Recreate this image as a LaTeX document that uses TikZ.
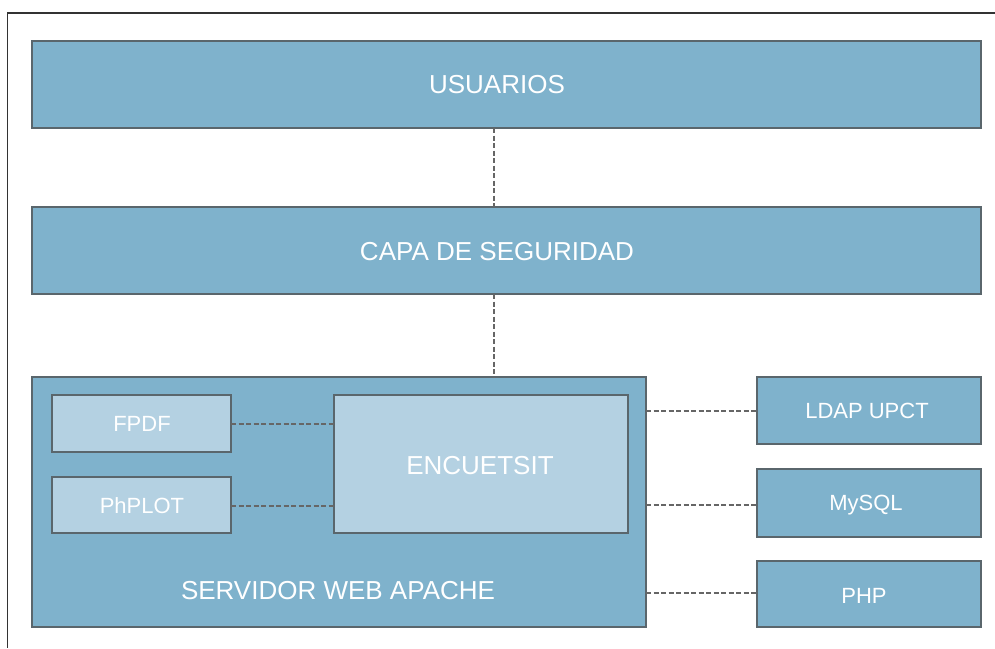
\documentclass[tikz,border=0pt]{standalone}
\usepackage{fontspec}
\setmainfont{Liberation Sans}
\definecolor{boxblue}{HTML}{7FB2CC}
\definecolor{innerblue}{HTML}{B4D1E2}
\definecolor{edgegray}{HTML}{5A666C}
\definecolor{dashgray}{HTML}{666666}
\begin{document}
\begin{tikzpicture}[x=1pt,y=-1pt,
  bigbox/.style={draw=edgegray,line width=1.8pt,fill=boxblue,text=white},
  innerbox/.style={draw=edgegray,line width=1.8pt,fill=innerblue,text=white},
  conn/.style={draw=dashgray,line width=1.3pt,dash pattern=on 5pt off 2.5pt},
  lbl/.style={text=white,font=\fontsize{26}{30}\selectfont},
  slbl/.style={text=white,font=\fontsize{22}{26}\selectfont}]
\useasboundingbox (0,0) rectangle (995,648);
% frame
\draw[line width=1.3pt,color=black!80] (995,13) -- (7.5,13) -- (7.5,648);
% boxes
\path[bigbox] (32,41) rectangle (981,128);
\node[lbl] (usu) at (497,85) {USUARIOS};
\coordinate (usuB) at (494,128);
\path[bigbox] (32,207) rectangle (981,294);
\node[lbl] (capa) at (497,252) {CAPA DE SEGURIDAD};
\coordinate (capaT) at (494,207);
\coordinate (capaB) at (494,294);
\path[bigbox] (32,377) rectangle (646,627);
\node[lbl] (serv) at (338,591) {SERVIDOR WEB APACHE};
\coordinate (servT) at (494,377);
\coordinate (servR1) at (646,411);
\coordinate (servR2) at (646,505);
\coordinate (servR3) at (646,593);
\path[innerbox] (52,395) rectangle (231,452);
\node[slbl] (fpdf) at (142,424) {FPDF};
\coordinate (fpdfR) at (231,424);
\path[innerbox] (52,477) rectangle (231,533);
\node[slbl] (phplot) at (142,506) {PhPLOT};
\coordinate (phplotR) at (231,506);
\path[innerbox] (334,395) rectangle (628,533);
\node[lbl] (enc) at (480,466) {ENCUETSIT};
\coordinate (encL1) at (334,424);
\coordinate (encL2) at (334,506);
\path[bigbox] (757,377) rectangle (981,444);
\node[slbl] (ldap) at (867,411) {LDAP UPCT};
\coordinate (ldapL) at (757,411);
\path[bigbox] (757,469) rectangle (981,537);
\node[slbl] (mysql) at (866,505) {MySQL};
\coordinate (mysqlL) at (757,505);
\path[bigbox] (757,561) rectangle (981,627);
\node[slbl] (php) at (864,596) {PHP};
\coordinate (phpL) at (757,593);
% connectors
\draw[conn] (usuB) -- (capaT);
\draw[conn] (capaB) -- (servT);
\draw[conn] (fpdfR) -- (encL1);
\draw[conn] (phplotR) -- (encL2);
\draw[conn] (servR1) -- (ldapL);
\draw[conn] (servR2) -- (mysqlL);
\draw[conn] (servR3) -- (phpL);
\end{tikzpicture}
\end{document}
